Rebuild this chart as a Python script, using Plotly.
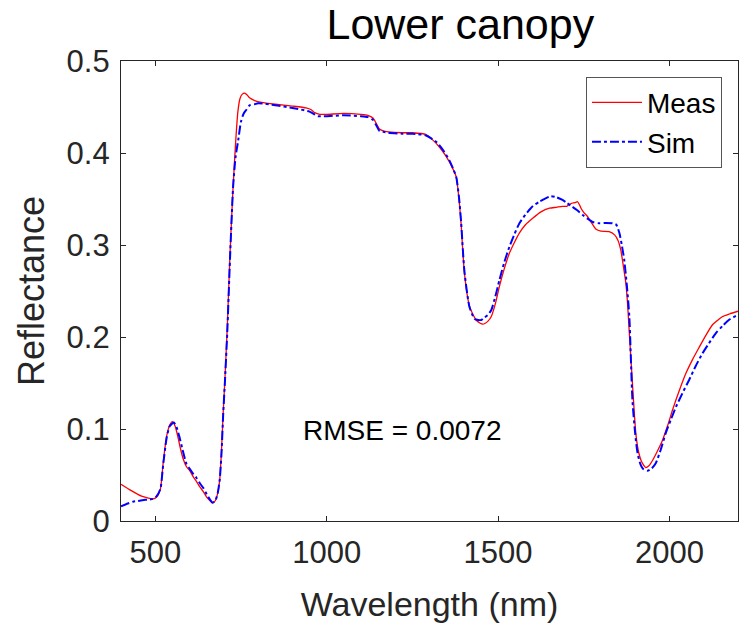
import plotly.graph_objects as go

# Measured spectrum (red)
meas_nm = [400, 430, 460, 493, 504, 515, 523, 533, 542, 550, 558, 565, 572, 581, 591, 600, 611, 620, 630, 640, 650,
           660, 667, 675, 682, 688, 693, 698, 703, 710, 718, 727, 735, 741, 747, 754, 761, 768, 775, 790, 810,
           850, 900, 940, 955, 965, 980, 1000, 1050, 1100, 1120, 1135, 1145, 1154, 1165, 1180, 1220, 1250, 1290,
           1310, 1330, 1349, 1368, 1378, 1386, 1392, 1402, 1417, 1436, 1448, 1455, 1463, 1470, 1480, 1492, 1504,
           1518, 1533, 1548, 1562, 1580, 1601, 1625, 1650, 1670, 1688, 1700, 1713, 1724, 1732, 1737, 1742, 1751,
           1761, 1773, 1786, 1800, 1824, 1840, 1850, 1858, 1866, 1873, 1878, 1883, 1892, 1902, 1910, 1917, 1924,
           1931, 1940, 1951, 1965, 1980, 1995, 2009, 2028, 2048, 2068, 2087, 2105, 2125, 2140, 2154, 2175, 2200]
meas_r = [0.040, 0.033, 0.027, 0.024, 0.026, 0.035, 0.063, 0.092, 0.104, 0.108, 0.103, 0.093, 0.081, 0.068, 0.059, 0.055,
          0.048, 0.043, 0.037, 0.032, 0.026, 0.022, 0.0195, 0.022, 0.030, 0.045, 0.075, 0.117, 0.153, 0.210, 0.290,
          0.363, 0.415, 0.445, 0.459, 0.464, 0.465, 0.463, 0.460, 0.457, 0.455, 0.453, 0.451, 0.449, 0.447, 0.444,
          0.442, 0.442, 0.443, 0.442, 0.441, 0.438, 0.432, 0.426, 0.424, 0.423, 0.422, 0.422, 0.420, 0.414, 0.406,
          0.396, 0.383, 0.374, 0.350, 0.324, 0.269, 0.233, 0.2185, 0.215, 0.214, 0.215, 0.217, 0.222, 0.236, 0.255,
          0.274, 0.291, 0.303, 0.313, 0.322, 0.329, 0.336, 0.340, 0.341, 0.342, 0.342, 0.345, 0.346, 0.347, 0.344,
          0.340, 0.335, 0.331, 0.324, 0.317, 0.315, 0.3145, 0.311, 0.305, 0.2946, 0.276, 0.258, 0.235, 0.204, 0.150,
          0.095, 0.075, 0.066, 0.061, 0.058, 0.060, 0.066, 0.076, 0.088, 0.104, 0.1207, 0.141, 0.1605, 0.176, 0.189,
          0.201, 0.213, 0.218, 0.222, 0.225, 0.228]

# Simulated spectrum (blue)
sim_nm = [400, 420, 435, 455, 470, 493, 504, 515, 523, 533, 542, 554, 562, 570, 580, 591, 600, 611, 620, 630, 640, 650,
          660, 667, 675, 682, 688, 693, 698, 703, 710, 718, 727, 734, 742, 750, 758, 766, 776, 790, 800, 850, 900,
          950, 965, 975, 1000, 1050, 1100, 1120, 1135, 1145, 1154, 1165, 1180, 1220, 1250, 1290, 1320, 1340, 1358,
          1370, 1378, 1386, 1392, 1402, 1417, 1432, 1442, 1451, 1460, 1470, 1480, 1492, 1504, 1518, 1533, 1548,
          1562, 1580, 1601, 1620, 1640, 1654, 1670, 1688, 1700, 1717, 1730, 1747, 1760, 1776, 1795, 1815, 1834,
          1845, 1854, 1861, 1868, 1876, 1883, 1892, 1900, 1907, 1915, 1922, 1936, 1948, 1960, 1975, 1989, 2004,
          2019, 2038, 2057, 2076, 2096, 2115, 2135, 2155, 2175, 2200]
sim_r = [0.016, 0.019, 0.021, 0.022, 0.023, 0.024, 0.027, 0.035, 0.061, 0.090, 0.103, 0.107, 0.102, 0.092, 0.077,
         0.062, 0.057, 0.051, 0.047, 0.041, 0.036, 0.029, 0.023, 0.020, 0.022, 0.030, 0.045, 0.072, 0.115, 0.150,
         0.205, 0.285, 0.363, 0.395, 0.414, 0.434, 0.443, 0.447, 0.452, 0.453, 0.454, 0.452, 0.449, 0.445, 0.442,
         0.440, 0.440, 0.441, 0.440, 0.439, 0.436, 0.430, 0.424, 0.423, 0.422, 0.421, 0.421, 0.419, 0.412, 0.403,
         0.392, 0.382, 0.374, 0.352, 0.326, 0.271, 0.232, 0.2195, 0.2185, 0.2185, 0.221, 0.224, 0.229, 0.244, 0.262,
         0.281, 0.298, 0.312, 0.3235, 0.333, 0.342, 0.347, 0.351, 0.353, 0.352, 0.349, 0.346, 0.3415, 0.338, 0.3326,
         0.329, 0.325, 0.3236, 0.324, 0.3236, 0.322, 0.313, 0.300, 0.284, 0.255, 0.222, 0.1315, 0.095, 0.0736,
         0.062, 0.057, 0.0547, 0.057, 0.0627, 0.078, 0.0953, 0.110, 0.124, 0.139, 0.153, 0.168, 0.182, 0.193,
         0.204, 0.212, 0.219, 0.224]

x_ticks = [500, 1000, 1500, 2000]
y_ticks = [0, 0.1, 0.2, 0.3, 0.4, 0.5]
y_tick_text = ["0", "0.1", "0.2", "0.3", "0.4", "0.5"]

FONT = "Liberation Sans, Arial, sans-serif"
AX = "#262626"

fig = go.Figure()
fig.add_trace(go.Scatter(x=meas_nm, y=meas_r, mode="lines", name="Meas",
                         line=dict(color="#FF0000", width=1.3, shape="spline", smoothing=0.6)))
fig.add_trace(go.Scatter(x=sim_nm, y=sim_r, mode="lines", name="Sim",
                         line=dict(color="#0000FF", width=2, dash="dashdot", shape="spline", smoothing=0.6)))

fig.add_annotation(x=1221, y=0.098, xref="x", yref="y", text="RMSE = 0.0072", showarrow=False,
                   font=dict(family=FONT, size=28, color="black"), xanchor="center", yanchor="middle")

fig.update_layout(
    width=743, height=626,
    margin=dict(l=121, r=5, t=61, b=105),
    paper_bgcolor="white", plot_bgcolor="white",
    font=dict(family=FONT, color=AX),
    title=dict(text="Lower canopy", x=0.55, xref="paper", xanchor="center",
               y=0.962, yref="container", yanchor="middle",
               font=dict(family=FONT, size=43, color="black")),
    showlegend=True,
    legend=dict(x=0.974, y=0.966, xanchor="right", yanchor="top",
                bgcolor="white", bordercolor="#555555", borderwidth=1,
                font=dict(family=FONT, size=28, color="black"),
                itemwidth=50, tracegroupgap=0),
    xaxis=dict(range=[400, 2200], tickvals=x_ticks, ticks="inside", ticklen=5, tickcolor=AX,
               showline=True, linecolor=AX, linewidth=1.2, mirror="ticks", showgrid=False, zeroline=False,
               tickfont=dict(family=FONT, size=31, color=AX), ticklabelstandoff=4,
               title=dict(text="Wavelength (nm)", font=dict(family=FONT, size=34, color=AX), standoff=22)),
    yaxis=dict(range=[0, 0.5], tickvals=y_ticks, ticktext=y_tick_text, ticks="inside", ticklen=5, tickcolor=AX,
               showline=True, linecolor=AX, linewidth=1.2, mirror="ticks", showgrid=False, zeroline=False,
               tickfont=dict(family=FONT, size=31, color=AX), ticklabelstandoff=4,
               title=dict(text="Reflectance", font=dict(family=FONT, size=36, color=AX), standoff=10)),
)

fig.write_html("out.html")
